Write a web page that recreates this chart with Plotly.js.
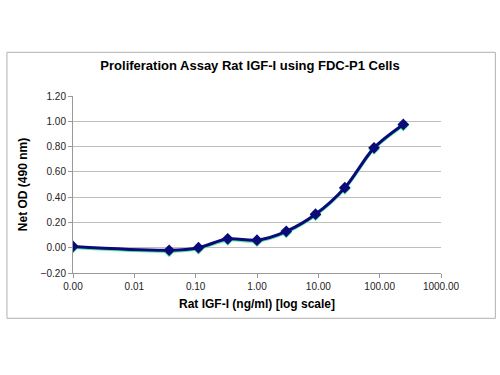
<!DOCTYPE html>
<html>
<head>
<meta charset="utf-8">
<script src="https://cdn.plot.ly/plotly-3.0.1.min.js"></script>
<style>html,body{margin:0;padding:0;background:#fff;}#chart{width:500px;height:375px;}</style>
</head>
<body>
<div id="chart"></div>
<script>
// Data
const concentration = [0.001, 0.037, 0.111, 0.333, 1, 3, 9, 27, 81, 243]; // ng/ml
const netOD = [0.01, -0.02, 0.00, 0.07, 0.06, 0.13, 0.265, 0.475, 0.79, 0.975];
const xTickVals = [0.001, 0.01, 0.1, 1, 10, 100, 1000];
const xTickText = ["0.00", "0.01", "0.10", "1.00", "10.00", "100.00", "1000.00"];

const font = "Liberation Sans, Arial, sans-serif";

// shadow drawn on base (hidden, shifted) axis, main series on the visible overlaying axis
const shadow = {
  x: concentration, y: netOD, type: 'scatter', mode: 'lines+markers',
  line: {color: '#5ee8a8', width: 3, shape: 'spline', smoothing: 0.9},
  marker: {symbol: 'diamond', size: 9, color: '#5ee8a8'},
  yaxis: 'y', hoverinfo: 'skip', showlegend: false
};
const main = {
  x: concentration, y: netOD, type: 'scatter', mode: 'lines+markers',
  line: {color: '#0a0a78', width: 3, shape: 'spline', smoothing: 0.9},
  marker: {symbol: 'diamond', size: 9, color: '#0a0a78'},
  yaxis: 'y2', showlegend: false
};

const L = 73, R = 440.7, T = 95.7, B = 272.7;
const pw = R - L, ph = B - T;
const yRange = [-0.2, 1.2];
const shift = 0.009;

const layout = {
  width: 500, height: 375,
  margin: {l: L, r: 500 - R, t: T, b: 375 - B, pad: 0},
  paper_bgcolor: '#ffffff', plot_bgcolor: '#ffffff',
  showlegend: false,
  title: {text: '<b>Proliferation Assay Rat IGF-I using FDC-P1 Cells</b>',
    font: {family: font, size: 13, color: '#000'}, x: 0.5, xanchor: 'center', y: 1 - 65/375, yanchor: 'middle'},
  xaxis: {
    type: 'log', range: [-3, 3],
    tickvals: xTickVals, ticktext: xTickText,
    showgrid: false, zeroline: false,
    showline: true, linecolor: '#999', linewidth: 1,
    ticks: 'outside', ticklen: 4, tickcolor: '#999',
    tickfont: {family: font, size: 10, color: '#222'},
    title: {text: '<b>Rat IGF-I (ng/ml) [log scale]</b>', font: {family: font, size: 12, color: '#000'}, standoff: 8}
  },
  yaxis: {
    range: [yRange[0] + shift, yRange[1] + shift],
    showgrid: false, zeroline: false, showline: false, showticklabels: false, ticks: ''
  },
  yaxis2: {
    overlaying: 'y', side: 'left',
    range: yRange, dtick: 0.2, tick0: -0.2, tickformat: '.2f',
    showgrid: true, gridcolor: '#bdbdbd', gridwidth: 1, zeroline: false,
    showline: true, linecolor: '#999', linewidth: 1,
    ticks: 'outside', ticklen: 4, tickcolor: '#999',
    tickfont: {family: font, size: 10, color: '#222'},
    title: {text: '<b>Net OD (490 nm)</b>', font: {family: font, size: 12, color: '#000'}, standoff: 10}
  },
  shapes: [{
    type: 'rect', xref: 'paper', yref: 'paper',
    x0: (7 - L) / pw, x1: (495 - L) / pw,
    y0: -(318 - B) / ph, y1: (B - 52) / ph,
    line: {color: '#b0b0b0', width: 1}, fillcolor: 'rgba(0,0,0,0)', layer: 'below'
  }]
};

Plotly.newPlot('chart', [shadow, main], layout, {displayModeBar: false, staticPlot: true});
</script>
</body>
</html>
